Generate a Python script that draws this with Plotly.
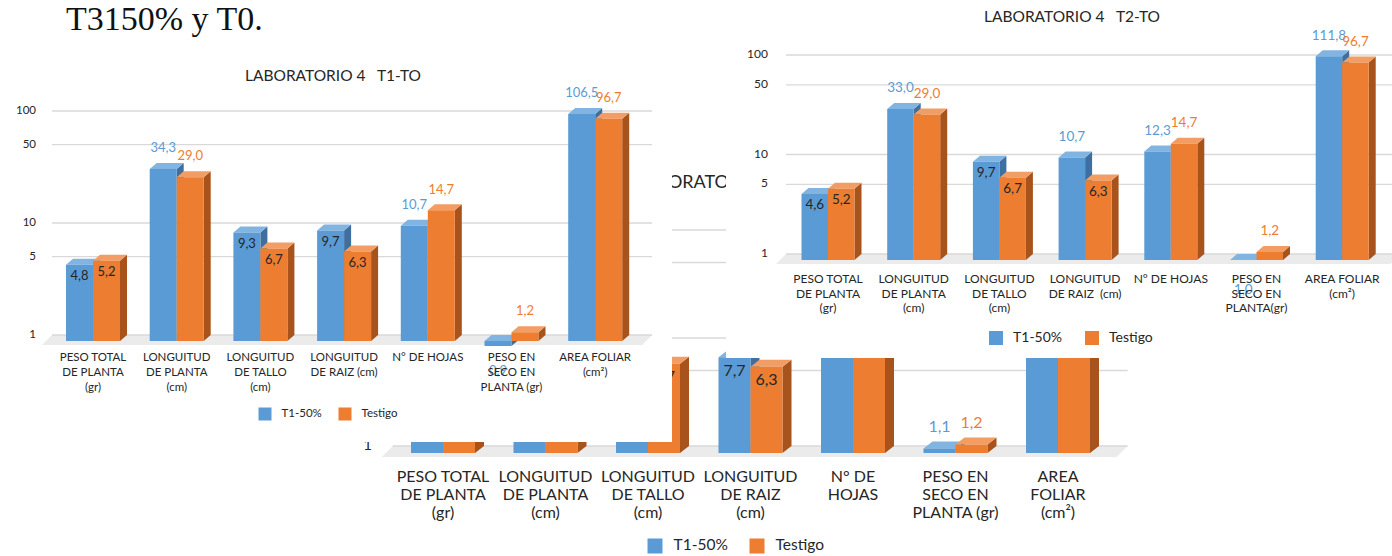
import math
import plotly.graph_objects as go

W, H = 1392, 556

# ---------------------------------------------------------------- data
series = ["T1-50%", "Testigo"]
ticks_y = [1, 5, 10, 50, 100]

cat_t1 = ["PESO TOTAL<br>DE PLANTA<br>(gr)", "LONGUITUD<br>DE PLANTA<br>(cm)",
          "LONGUITUD<br>DE TALLO<br>(cm)", "LONGUITUD<br>DE RAIZ (cm)", "N° DE HOJAS",
          "PESO EN<br>SECO EN<br>PLANTA (gr)", "AREA FOLIAR<br>(cm²)"]
cat_t2 = ["PESO TOTAL<br>DE PLANTA<br>(gr)", "LONGUITUD<br>DE PLANTA<br>(cm)",
          "LONGUITUD<br>DE TALLO<br>(cm)", "LONGUITUD<br>DE RAIZ  (cm)", "N° DE HOJAS",
          "PESO EN<br>SECO EN<br>PLANTA(gr)", "AREA FOLIAR<br>(cm²)"]
cat_t3 = ["PESO TOTAL<br>DE PLANTA<br>(gr)", "LONGUITUD<br>DE PLANTA<br>(cm)",
          "LONGUITUD<br>DE TALLO<br>(cm)", "LONGUITUD<br>DE RAIZ<br>(cm)", "N° DE<br>HOJAS",
          "PESO EN<br>SECO EN<br>PLANTA (gr)", "AREA<br>FOLIAR<br>(cm²)"]

trat_t1 = [4.8, 34.3, 9.3, 9.7, 10.7, 0.9, 106.5]
trat_t2 = [4.6, 33.0, 9.7, 10.7, 12.3, 1.0, 111.8]
trat_t3 = [4.4, 31.5, 8.7, 7.7, 11.7, 1.1, 103.4]
testigo = [5.2, 29.0, 6.7, 6.3, 14.7, 1.2, 96.7]

title_t1 = "LABORATORIO 4   T1-TO"
title_t2 = "LABORATORIO 4   T2-TO"
title_t3 = "LABORATORIO 4   T3-TO"
doc_text = "T3150% y T0."

# ---------------------------------------------------------------- style
FONT = "Lato, 'Open Sans', sans-serif"
BLUE = dict(front="#5b9bd5", top="#82b4e2", side="#3e6f9e", label="#5b9bd5")
ORANGE = dict(front="#ed7d31", top="#f29d63", side="#a8531c", label="#ed7d31")
GRID = "#d9d9d9"
FLOOR = "#ebebeb"
INK = "#262626"

# panel geometry in page pixels; first panel sits at the back
panels = [
    dict(xa="x", ya="y", box=(330, 165, 1135, 556), c0=443, S=102.5, base=446, dec=108,
         w=32, dx=9, dy=7, fdx=11, fdy=11, k=1.22, above=11,
         cats=cat_t3, trat=trat_t3, title=title_t3, title_xy=(737, 183), tick_right=372,
         cat_y0=478, cat_lh=18, leg_y=546, leg_sq=(655, 757), leg_gap=11, sq=15,
         f_title=18, f_cat=16, f_val=16, f_tick=15, f_leg=15.5),
    dict(xa="x2", ya="y2", box=(0, 50, 672, 442), c0=93, S=83.7, base=335, dec=112,
         w=27, dx=7, dy=6, fdx=10, fdy=10, k=1.0, above=14,
         cats=cat_t1, trat=trat_t1, title=title_t1, title_xy=(333, 77), tick_right=36,
         cat_y0=358, cat_lh=15, leg_y=414, leg_sq=(265, 345), leg_gap=10, sq=13,
         f_title=15.5, f_cat=11.5, f_val=13, f_tick=11.5, f_leg=11.5),
    dict(xa="x3", ya="y3", box=(726, 0, 1392, 358), c0=828, S=85.7, base=254, dec=99.5,
         w=26.5, dx=7, dy=6, fdx=10, fdy=10, k=1.0, above=14,
         cats=cat_t2, trat=trat_t2, title=title_t2, title_xy=(1072, 18), tick_right=768,
         cat_y0=280, cat_lh=14.5, leg_y=338, leg_sq=(996, 1092), leg_gap=10, sq=14,
         f_title=15.5, f_cat=12, f_val=13.5, f_tick=12, f_leg=14),
]


def fmt(v):
    return f"{v:.1f}".replace(".", ",")


fig = go.Figure()


def add_text(p, xs, ys, texts, size, color, pos="middle center"):
    fig.add_trace(go.Scatter(
        x=xs, y=ys, text=texts, mode="text", textposition=pos,
        textfont=dict(family=FONT, size=size, color=color),
        xaxis=p["xa"], yaxis=p["ya"], showlegend=False, hoverinfo="skip"))


def add_poly(p, pts, color):
    xs, ys = [], []
    for poly in pts:
        for (a, b) in poly:
            xs.append(a)
            ys.append(b)
        xs.append(None)
        ys.append(None)
    fig.add_trace(go.Scatter(
        x=xs, y=ys, mode="lines", fill="toself", fillcolor=color,
        line=dict(width=0, color=color), xaxis=p["xa"], yaxis=p["ya"],
        showlegend=False, hoverinfo="skip"))


for p in panels:
    c0, S, base, dec = p["c0"], p["S"], p["base"], p["dec"]
    n = len(p["cats"])

    def xd(px, c0=c0, S=S):
        return (px - c0) / S

    def yd(py, base=base, dec=dec):
        return 10 ** ((base - py) / dec)

    def ypx(v, base=base, dec=dec):
        return base - math.log10(v) * dec

    wu, du = p["w"] / S, p["dx"] / S
    m = 10 ** (-p["dy"] / dec)
    mf = 10 ** (-p["fdy"] / dec)
    gl_left = c0 - 0.49 * S
    gl_right = c0 + (n - 1) * S + 0.68 * S

    # floor slab and horizontal gridlines on the back wall
    add_poly(p, [[(xd(gl_left), 1), (xd(gl_right), 1),
                  (xd(gl_right - p["fdx"]), mf), (xd(gl_left - p["fdx"]), mf)]], FLOOR)
    gx, gy = [], []
    for t in ticks_y:
        gx += [xd(gl_left), xd(gl_right), None]
        gy += [t, t, None]
    fig.add_trace(go.Scatter(x=gx, y=gy, mode="lines", line=dict(color=GRID, width=1.3),
                             xaxis=p["xa"], yaxis=p["ya"], showlegend=False, hoverinfo="skip"))

    # 3-D columns: side, top and front faces for each series
    for side, vals, col in ((-1, p["trat"], BLUE), (1, testigo, ORANGE)):
        fronts, tops, sides = [], [], []
        for i, v in enumerate(vals):
            lo, hi = min(v, 1.0), max(v, 1.0)
            x0 = i - wu if side < 0 else i
            x1 = x0 + wu
            fronts.append([(x0, lo * m), (x1, lo * m), (x1, hi * m), (x0, hi * m)])
            tops.append([(x0, hi * m), (x1, hi * m), (x1 + du, hi), (x0 + du, hi)])
            sides.append([(x1, lo * m), (x1, hi * m), (x1 + du, hi), (x1 + du, lo)])
        add_poly(p, sides, col["side"])
        add_poly(p, tops, col["top"])
        add_poly(p, fronts, col["front"])

    # value labels: below the floor, above the column, or inside its top
    for side, vals, col in ((-1, p["trat"], BLUE), (1, testigo, ORANGE)):
        xs, ys, tx, cs = [], [], [], []
        for i, v in enumerate(vals):
            cx = i - wu / 2 if side < 0 else i + wu / 2
            if v <= 1.0:
                py = base + p["dy"] + 31 * p["k"]
                c = col["label"]
            elif 2 <= v < 10:
                py = ypx(v) + p["dy"] + 12 * p["k"]
                c = INK
            else:
                py = ypx(v) - p["above"] * p["k"]
                c = col["label"]
            xs.append(cx)
            ys.append(yd(py))
            tx.append(fmt(v))
            cs.append(c)
        fig.add_trace(go.Scatter(
            x=xs, y=ys, text=tx, mode="text", textposition="middle center",
            textfont=dict(family=FONT, size=p["f_val"], color=cs),
            xaxis=p["xa"], yaxis=p["ya"], showlegend=False,
            hovertext=[f"{series[0] if side < 0 else series[1]}: {t}" for t in tx],
            hoverinfo="text"))

    # y tick labels
    add_text(p, [xd(p["tick_right"])] * len(ticks_y), ticks_y, [str(t) for t in ticks_y],
             p["f_tick"], INK, "middle left")

    # category labels, one line at a time
    lx, ly, lt = [], [], []
    for i, label in enumerate(p["cats"]):
        for j, line in enumerate(label.split("<br>")):
            lx.append(i)
            ly.append(yd(p["cat_y0"] + j * p["cat_lh"]))
            lt.append(line)
    add_text(p, lx, ly, lt, p["f_cat"], INK)

    # chart title
    tx, ty = p["title_xy"]
    add_text(p, [xd(tx)], [yd(ty)], [p["title"]], p["f_title"], INK)

    # legend
    for sq_x, name, col in zip(p["leg_sq"], series, (BLUE, ORANGE)):
        fig.add_trace(go.Scatter(
            x=[xd(sq_x)], y=[yd(p["leg_y"])], mode="markers",
            marker=dict(symbol="square", size=p["sq"], color=col["front"], line=dict(width=0)),
            xaxis=p["xa"], yaxis=p["ya"], showlegend=False, hoverinfo="skip"))
        add_text(p, [xd(sq_x + p["sq"] / 2 + p["leg_gap"])], [yd(p["leg_y"])], [name],
                 p["f_leg"], INK, "middle right")

# axes: one hidden pair per panel, domains matching each panel box
layout_axes = {}
for idx, p in enumerate(panels):
    L, T, R, B = p["box"]
    sfx = "" if idx == 0 else str(idx + 1)
    layout_axes["xaxis" + sfx] = dict(
        domain=[L / W, R / W], range=[(L - p["c0"]) / p["S"], (R - p["c0"]) / p["S"]],
        visible=False, anchor=p["ya"], fixedrange=True)
    layout_axes["yaxis" + sfx] = dict(
        domain=[1 - B / H, 1 - T / H], type="log",
        range=[(p["base"] - B) / p["dec"], (p["base"] - T) / p["dec"]],
        visible=False, anchor=p["xa"], fixedrange=True)

fig.update_layout(
    width=W, height=H, margin=dict(l=0, r=0, t=0, b=0),
    paper_bgcolor="white", plot_bgcolor="white", showlegend=False,
    font=dict(family=FONT, color=INK),
    annotations=[dict(text=doc_text, x=64 / W, y=1 - 18 / H, xref="paper", yref="paper",
                      xanchor="left", yanchor="middle", showarrow=False,
                      font=dict(family="Liberation Serif", size=34, color="#111111"))],
    **layout_axes,
)

fig.write_html("out.html")
